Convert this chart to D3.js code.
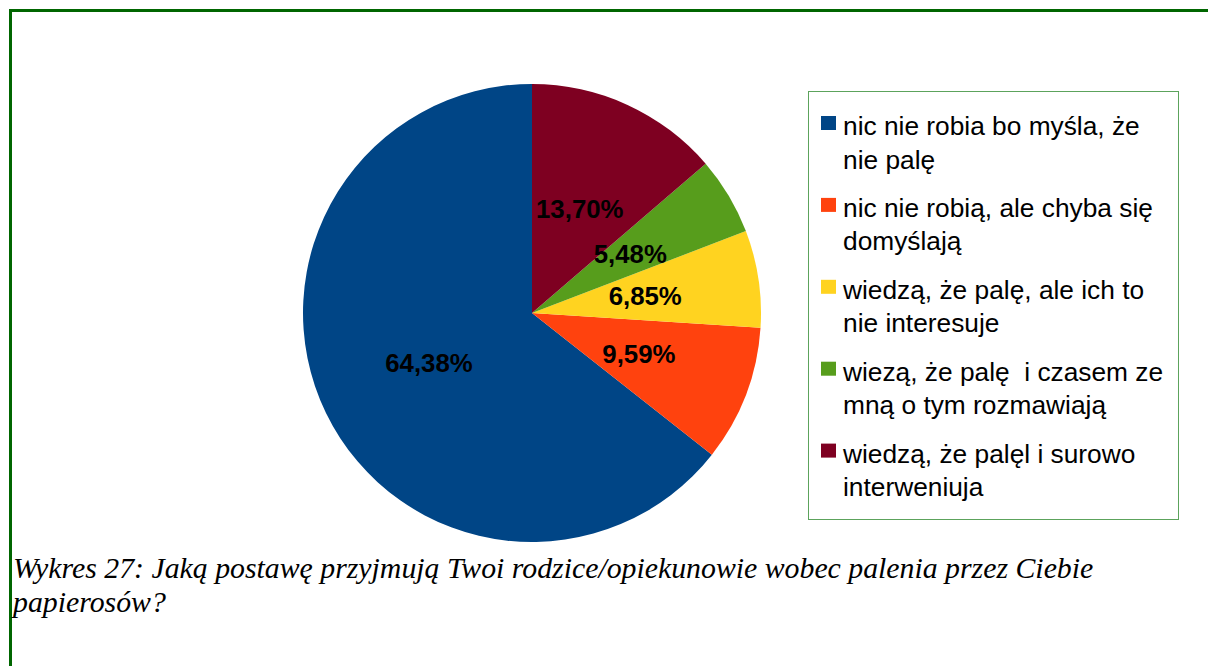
<!DOCTYPE html>
<html lang="pl">
  <head>
    <meta charset="utf-8" />
    <title>Wykres 27</title>
    <script src="https://cdn.jsdelivr.net/npm/d3@7"></script>
    <style type="text/css">
      body {
        margin: 0;
        background: #fff;
      }
      svg {
        display: block;
      }
    </style>
  </head>
  <body>
    <script type="text/javascript">
      //Width and height
      var w = 1208;
      var h = 666;

      //Data
      var categories = [
        ["nic nie robia bo myśla, że", "nie palę"],
        ["nic nie robią, ale chyba się", "domyślają"],
        ["wiedzą, że palę, ale ich to", "nie interesuje"],
        ["wiezą, że palę  i czasem ze", "mną o tym rozmawiają"],
        ["wiedzą, że palęl i surowo", "interweniuja"]
      ];
      var values = [64.38, 9.59, 6.85, 5.48, 13.7];
      var valueLabels = ["64,38%", "9,59%", "6,85%", "5,48%", "13,70%"];
      var colors = ["#004586", "#ff420e", "#ffd320", "#579d1c", "#7e0021"];
      var caption = [
        "Wykres 27: Jaką postawę przyjmują Twoi rodzice/opiekunowie wobec palenia przez Ciebie",
        "papierosów?"
      ];

      var cx = 532;
      var cy = 313;
      var radius = 229;

      var svg = d3
        .select("body")
        .append("svg")
        .attr("width", w)
        .attr("height", h);

      //Frame (top and left edges only)
      svg
        .append("path")
        .attr("d", "M10.5," + h + "V10.5H" + w)
        .attr("fill", "none")
        .attr("stroke", "#006600")
        .attr("stroke-width", 3);

      //Pie, drawn counterclockwise from 12 o'clock
      var pie = d3
        .pie()
        .sort(null)
        .startAngle(0)
        .endAngle(-2 * Math.PI);

      var arc = d3.arc().innerRadius(0).outerRadius(radius);

      var g = svg
        .append("g")
        .attr("transform", "translate(" + cx + "," + cy + ")");

      var arcs = pie(values);

      g.selectAll("path")
        .data(arcs)
        .enter()
        .append("path")
        .attr("d", arc)
        .attr("fill", function (d, i) {
          return colors[i];
        });

      g.selectAll("text")
        .data(arcs)
        .enter()
        .append("text")
        .attr("transform", function (d) {
          var c = arc.centroid(d);
          return "translate(" + c[0] + "," + (c[1] + 9) + ")";
        })
        .attr("text-anchor", "middle")
        .attr("font-family", "'Liberation Sans', Arial, sans-serif")
        .attr("font-weight", "bold")
        .attr("font-size", "25.8px")
        .attr("fill", "#000")
        .text(function (d, i) {
          return valueLabels[i];
        });

      //Legend
      var legend = svg.append("g");

      legend
        .append("rect")
        .attr("x", 808.5)
        .attr("y", 91.5)
        .attr("width", 370)
        .attr("height", 428)
        .attr("fill", "#fff")
        .attr("stroke", "#5ca35c")
        .attr("stroke-width", 1);

      var items = legend
        .selectAll("g.item")
        .data(categories)
        .enter()
        .append("g")
        .attr("class", "item")
        .attr("transform", function (d, i) {
          return "translate(0," + (i * 81.9) + ")";
        });

      items
        .append("rect")
        .attr("x", 821)
        .attr("y", 116)
        .attr("width", 15)
        .attr("height", 14)
        .attr("fill", function (d, i) {
          return colors[i];
        });

      items
        .append("text")
        .attr("font-family", "'Liberation Sans', Arial, sans-serif")
        .attr("font-size", "26.3px")
        .attr("fill", "#000")
        .selectAll("tspan")
        .data(function (d) {
          return d;
        })
        .enter()
        .append("tspan")
        .attr("x", 843)
        .attr("y", function (d, j) {
          return 135 + j * 33.5;
        })
        .attr("xml:space", "preserve")
        .style("white-space", "pre")
        .text(function (d) {
          return d;
        });

      //Caption
      svg
        .append("text")
        .attr("font-family", "'Liberation Serif', 'Times New Roman', serif")
        .attr("font-style", "italic")
        .attr("font-size", "29.8px")
        .attr("fill", "#000")
        .selectAll("tspan")
        .data(caption)
        .enter()
        .append("tspan")
        .attr("x", 13)
        .attr("y", function (d, j) {
          return 578 + j * 34;
        })
        .text(function (d) {
          return d;
        });
    </script>
  </body>
</html>
